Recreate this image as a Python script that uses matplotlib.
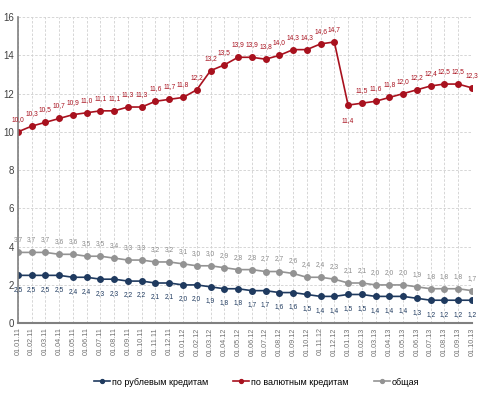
import matplotlib
matplotlib.use("Agg")
import matplotlib.pyplot as plt

dates = ["01.01.11", "01.02.11", "01.03.11", "01.04.11", "01.05.11", "01.06.11",
         "01.07.11", "01.08.11", "01.09.11", "01.10.11", "01.11.11", "01.12.11",
         "01.01.12", "01.02.12", "01.03.12", "01.04.12", "01.05.12", "01.06.12",
         "01.07.12", "01.08.12", "01.09.12", "01.10.12", "01.11.12", "01.12.12",
         "01.01.13", "01.02.13", "01.03.13", "01.04.13", "01.05.13", "01.06.13",
         "01.07.13", "01.08.13", "01.09.13", "01.10.13"]

rub = [2.5, 2.5, 2.5, 2.5, 2.4, 2.4, 2.3, 2.3, 2.2, 2.2, 2.1, 2.1,
       2.0, 2.0, 1.9, 1.8, 1.8, 1.7, 1.7, 1.6, 1.6, 1.5, 1.4, 1.4,
       1.5, 1.5, 1.4, 1.4, 1.4, 1.3, 1.2, 1.2, 1.2, 1.2]
fx = [10.0, 10.3, 10.5, 10.7, 10.9, 11.0, 11.1, 11.1, 11.3, 11.3, 11.6, 11.7,
      11.8, 12.2, 13.2, 13.5, 13.9, 13.9, 13.8, 14.0, 14.3, 14.3, 14.6, 14.7,
      11.4, 11.5, 11.6, 11.8, 12.0, 12.2, 12.4, 12.5, 12.5, 12.3]
total = [3.7, 3.7, 3.7, 3.6, 3.6, 3.5, 3.5, 3.4, 3.3, 3.3, 3.2, 3.2,
         3.1, 3.0, 3.0, 2.9, 2.8, 2.8, 2.7, 2.7, 2.6, 2.4, 2.4, 2.3,
         2.1, 2.1, 2.0, 2.0, 2.0, 1.9, 1.8, 1.8, 1.8, 1.7]

series_names = ["по рублевым кредитам", "по валютным кредитам", "общая"]
c_rub = "#1f3a5f"
c_fx = "#a8111e"
c_tot = "#939393"

plt.rcParams['font.family'] = ['Liberation Sans Narrow', 'Liberation Sans', 'DejaVu Sans']

fig = plt.figure(figsize=(4.84, 3.98), dpi=100)
ax = fig.add_axes([0.037, 0.188, 0.938, 0.769])

x = list(range(len(dates)))
ax.plot(x, rub, color=c_rub, marker="o", markersize=4, linewidth=1.2, label=series_names[0])
ax.plot(x, fx, color=c_fx, marker="o", markersize=4, linewidth=1.2, label=series_names[1])
ax.plot(x, total, color=c_tot, marker="o", markersize=4, linewidth=1.2, label=series_names[2])

def fmt(v):
    return ("%.1f" % v).replace(".", ",")

lab_fs = 4.8
for i in x:
    ax.annotate(fmt(rub[i]), (i, rub[i]), xytext=(0, -10), textcoords="offset points",
                ha="center", va="center", fontsize=lab_fs, color=c_rub)
    ax.annotate(fmt(total[i]), (i, total[i]), xytext=(0, 9), textcoords="offset points",
                ha="center", va="center", fontsize=lab_fs, color="#8a8a8a")
    dy = -11 if i == 24 else 9
    ax.annotate(fmt(fx[i]), (i, fx[i]), xytext=(0, dy), textcoords="offset points",
                ha="center", va="center", fontsize=lab_fs, color=c_fx)

ax.set_xlim(0, len(dates) - 1)
ax.set_ylim(0, 16)
ax.set_yticks([0, 2, 4, 6, 8, 10, 12, 14, 16])
ax.set_xticks(x)
ax.set_xticklabels(dates, rotation=90, fontsize=5.2, color="#707070")
ax.tick_params(axis="y", length=0, labelsize=7, colors="#404040", pad=3)
ax.tick_params(axis="x", length=0, pad=3)
ax.grid(True, color="#d0d0d0", linestyle=(0, (3, 2)), linewidth=0.6)
ax.set_axisbelow(True)
for s in ["top", "right"]:
    ax.spines[s].set_visible(False)
ax.spines["left"].set_color("#808080")
ax.spines["left"].set_linewidth(1.2)
ax.spines["bottom"].set_color("#808080")
ax.spines["bottom"].set_linewidth(1.5)

fig.legend(loc="center", bbox_to_anchor=(0.53, 0.04), ncol=3, frameon=False,
           fontsize=6.5, handlelength=1.8, columnspacing=2.8, handletextpad=0.2,
           markerscale=0.7)

fig.savefig("out.png", dpi=100)
